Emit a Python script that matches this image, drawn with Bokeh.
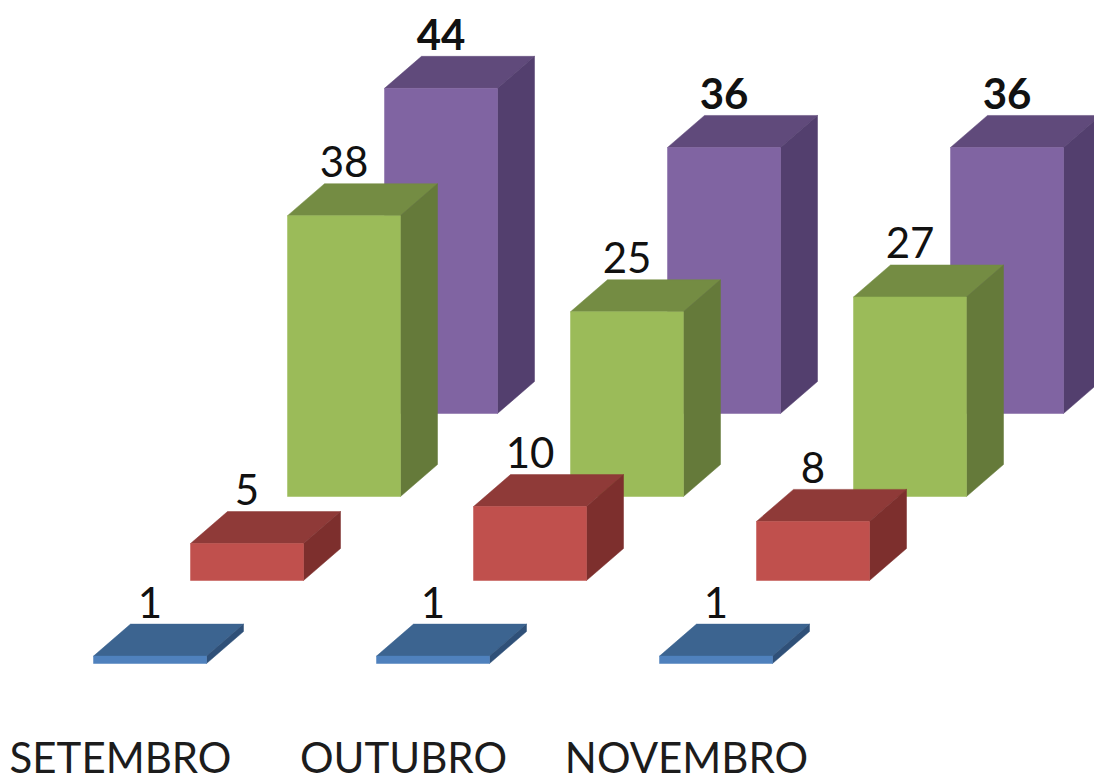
from bokeh.core.properties import value
from bokeh.embed import file_html
from bokeh.models import FixedTicker
from bokeh.plotting import figure
from bokeh.resources import INLINE

months = ["SETEMBRO", "OUTUBRO", "NOVEMBRO"]
blue_values = [1, 1, 1]
red_values = [5, 10, 8]
green_values = [38, 25, 27]
purple_values = [44, 36, 36]

# layout (pixels of the page)
PX_PER_VALUE = 7.39
PX_PER_MONTH = 283.0
LEFT, RIGHT, TOP, FRAME_BOTTOM = 0, 1094, 0, 700
BASE_Y = 663
TICK0_X = 120
BAR_W = 113 / PX_PER_MONTH
DEPTH_X = 37 / PX_PER_MONTH
DEPTH_Y = 32 / PX_PER_VALUE

series = [  # back to front
    dict(vals=purple_values, x0=384, base=413, front="#8064a2", top="#604a7b", side="#533f6e", bold=True),
    dict(vals=green_values, x0=287, base=496, front="#9bbb59", top="#748c43", side="#657a3a", bold=False),
    dict(vals=red_values, x0=190, base=580, front="#c0504d", top="#8f3a38", side="#7d2f2d", bold=False),
    dict(vals=blue_values, x0=93, base=663, front="#4f81bd", top="#3c6490", side="#2f5078", bold=False),
]

p = figure(
    frame_width=RIGHT - LEFT, frame_height=FRAME_BOTTOM - TOP,
    x_range=((LEFT - TICK0_X) / PX_PER_MONTH, (RIGHT - TICK0_X) / PX_PER_MONTH),
    y_range=((BASE_Y - FRAME_BOTTOM) / PX_PER_VALUE, (BASE_Y - TOP) / PX_PER_VALUE),
    y_axis_location=None, toolbar_location=None, output_backend="svg",
    min_border=0, outline_line_color=None, background_fill_color="white",
)
p.grid.visible = False

ax = p.xaxis[0]
ax.ticker = FixedTicker(ticks=list(range(len(months))))
ax.major_label_overrides = {i: m for i, m in enumerate(months)}
ax.major_label_text_font = "Lato"
ax.major_label_text_font_size = "42px"
ax.major_label_text_color = "#1c1c1c"
ax.major_label_standoff = 25
ax.axis_line_color = None
ax.major_tick_line_color = None
ax.minor_tick_line_color = None

for s in series:
    off = (s["x0"] - TICK0_X) / PX_PER_MONTH
    base = (s["base"] - BASE_Y) / -PX_PER_VALUE
    lefts = [i + off for i in range(len(s["vals"]))]
    rights = [l + BAR_W for l in lefts]
    tops = [base + v for v in s["vals"]]
    bases = [base] * len(s["vals"])
    # top face
    p.patches(
        [[l, r, r + DEPTH_X, l + DEPTH_X] for l, r in zip(lefts, rights)],
        [[t, t, t + DEPTH_Y, t + DEPTH_Y] for t in tops],
        fill_color=s["top"], line_color=s["top"], line_width=0.5,
    )
    # side face
    p.patches(
        [[r, r + DEPTH_X, r + DEPTH_X, r] for r in rights],
        [[b, b + DEPTH_Y, t + DEPTH_Y, t] for b, t in zip(bases, tops)],
        fill_color=s["side"], line_color=s["side"], line_width=0.5,
    )
    # front face
    p.quad(left=lefts, right=rights, bottom=bases, top=tops,
           fill_color=s["front"], line_color=s["front"], line_width=0.5)

for s in series:
    off = (s["x0"] - TICK0_X) / PX_PER_MONTH
    base = (s["base"] - BASE_Y) / -PX_PER_VALUE
    p.text(
        x=[i + off + BAR_W / 2 for i in range(len(s["vals"]))],
        y=[base + v + DEPTH_Y for v in s["vals"]],
        text=[str(v) for v in s["vals"]],
        text_font=value("Lato"), text_font_size="42px",
        text_font_style="bold" if s["bold"] else "normal",
        text_color="#111111", text_align="center", text_baseline="alphabetic",
        y_offset=-22,
    )

open("out.html", "w").write(file_html(p, INLINE))
